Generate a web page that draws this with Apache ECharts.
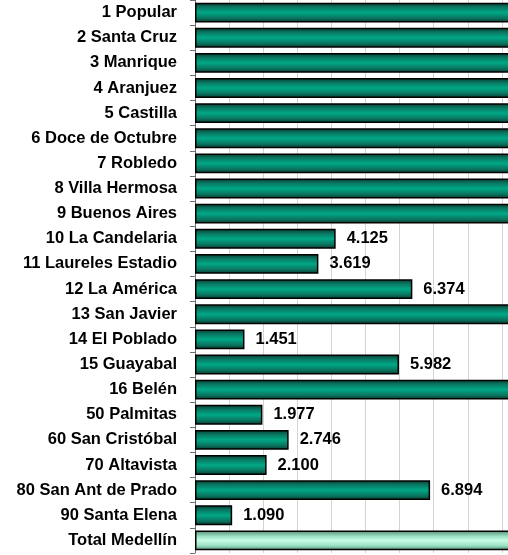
<!DOCTYPE html>
<html>
<head>
<meta charset="utf-8">
<script src="https://cdn.jsdelivr.net/npm/echarts@6/dist/echarts.min.js"></script>
<style>
  html, body { margin: 0; padding: 0; background: #fff; }
  #chart { width: 508px; height: 555px; }
</style>
</head>
<body>
<div id="chart"></div>
<script>
// comunas / corregimientos
const categories = [
  "1 Popular", "2 Santa Cruz", "3 Manrique", "4 Aranjuez", "5 Castilla",
  "6 Doce de Octubre", "7 Robledo", "8 Villa Hermosa", "9 Buenos Aires",
  "10 La Candelaria", "11 Laureles Estadio", "12 La América", "13 San Javier",
  "14 El Poblado", "15 Guayabal", "16 Belén", "50 Palmitas", "60 San Cristóbal",
  "70 Altavista", "80 San Ant de Prado", "90 Santa Elena", "Total Medellín"
];
// las barras largas salen del recuadro, valores estimados
const values = [
  11200, 9900, 13500, 12800, 11000,
  14200, 13900, 10700, 11900,
  4125, 3619, 6374, 11600,
  1451, 5982, 14700, 1977, 2746,
  2100, 6894, 1090, 165000
];
const xTicks = { min: 0, max: 10000, step: 1000 };

function fmt(v) {
  return String(v).replace(/\B(?=(\d{3})+(?!\d))/g, ".");
}

const green = {
  type: "linear", x: 0, y: 0, x2: 0, y2: 1,
  colorStops: [
    { offset: 0, color: "#05382c" },
    { offset: 0.22, color: "#0a7560" },
    { offset: 0.5, color: "#00a886" },
    { offset: 0.78, color: "#0a7560" },
    { offset: 1, color: "#05382c" }
  ]
};
const light = {
  type: "linear", x: 0, y: 0, x2: 0, y2: 1,
  colorStops: [
    { offset: 0, color: "#4f8a74" },
    { offset: 0.3, color: "#9fe3c6" },
    { offset: 0.5, color: "#c4fce4" },
    { offset: 0.75, color: "#9fe3c6" },
    { offset: 1, color: "#4f8a74" }
  ]
};

const seriesData = values.map((v, i) => ({
  value: v,
  itemStyle: { color: i === values.length - 1 ? light : green }
}));

let chart = echarts.init(document.getElementById("chart"));
let option = {
  animation: false,
  grid: {
    left: 195,
    top: 0,
    bottom: 2,
    width: 341,
    outerBoundsMode: "none",
    containLabel: false
  },
  xAxis: {
    type: "value",
    min: xTicks.min,
    max: xTicks.max,
    interval: xTicks.step,
    axisLabel: { show: false },
    axisLine: { show: false },
    axisTick: { show: false },
    splitLine: { lineStyle: { color: "#d4d4d4", width: 1 } }
  },
  yAxis: {
    type: "category",
    inverse: true,
    data: categories,
    axisLine: { show: true, lineStyle: { color: "#707070", width: 1 } },
    axisTick: { show: true, length: 5, lineStyle: { color: "#707070" } },
    axisLabel: {
      margin: 18,
      color: "#000",
      fontFamily: "Liberation Sans, Arial",
      fontWeight: "bold",
      fontSize: 16.5
    }
  },
  series: [
    {
      type: "bar",
      data: seriesData,
      barCategoryGap: "21%",
      itemStyle: { borderColor: "#000", borderWidth: 1.5 },
      label: {
        show: true,
        position: "right",
        distance: 11,
        color: "#000",
        fontFamily: "Liberation Sans, Arial",
        fontWeight: "bold",
        fontSize: 16.5,
        formatter: (p) => fmt(p.value)
      }
    }
  ]
};
chart.setOption(option);
</script>
</body>
</html>
